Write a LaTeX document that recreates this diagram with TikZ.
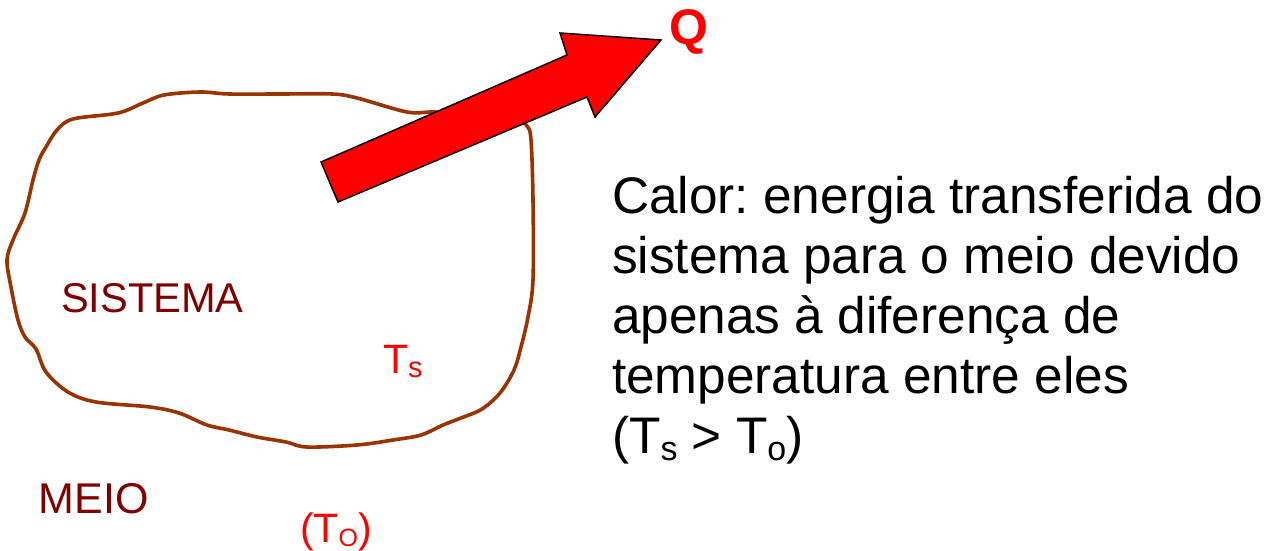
\documentclass[tikz,border=0pt]{standalone}
\usepackage{fontspec}
\setmainfont{Liberation Sans}
\definecolor{blobbrown}{RGB}{153,51,0}
\definecolor{darkred}{RGB}{128,0,0}
\definecolor{pure red}{RGB}{255,0,0}
\newcommand{\lowsub}[3]{\raisebox{-#2pt}{\fontsize{#1}{#1}\selectfont #3}}
\frenchspacing
\begin{document}
\begin{tikzpicture}[x=0.5pt,y=-0.5pt,
  txt/.style={inner sep=0pt, outer sep=0pt, anchor=base west, font=\fontsize{25.7}{30}\selectfont, text=black},
  lbl/.style={inner sep=0pt, outer sep=0pt, anchor=base west, font=\fontsize{20.8}{24}\selectfont, text=darkred},
  redlbl/.style={inner sep=0pt, outer sep=0pt, anchor=base west, font=\fontsize{20.5}{24}\selectfont, text=pure red},
  qlbl/.style={inner sep=0pt, outer sep=0pt, anchor=base west, font=\fontsize{25}{28}\selectfont\bfseries, text=pure red},
  blob/.style={draw=blobbrown, line width=1.8pt, line join=round},
  heatarrow/.style={fill=pure red, draw=black, line width=0.75pt, line join=miter}
]
\useasboundingbox (0,0) rectangle (1284,551);
\fill[white] (0,0) rectangle (1284,551);

% system boundary
\draw[blob] plot[smooth cycle, tension=0.55] coordinates {
 (73,119) (118,113) (143,103) (164,95) (200,92) (229,94) (280,94) (332,94) (357,98)
 (407,112) (434,112) (480,114) (515,118) (527,126) (531,140) (533,200) (533,280)
 (528,317) (521,347) (514,370) (500,393) (482,409) (461,418) (443,425) (421,435)
 (393,440) (357,445) (307,447) (286,442) (257,437) (229,430) (207,425) (179,413)
 (150,407) (96,402) (68,392) (46,372) (36,349) (25,337) (18,320) (11,287) (7,260)
 (13,240) (25,213) (33,180) (39,160) (46,147) (57,130)};

% heat arrow
\coordinate (tailA) at (338,202);
\coordinate (tailB) at (321,162);
\coordinate (notchT) at (567,55);
\coordinate (barbT) at (560,33);
\coordinate (tip) at (661,40);
\coordinate (barbB) at (595,117);
\coordinate (notchB) at (587,97);
\draw[heatarrow] (tailA) -- (tailB) -- (notchT) -- (barbT) -- (tip) -- (barbB) -- (notchB) -- cycle;

% labels
\node[qlbl] (q) at (669,45) {Q};
\node[lbl] (sistema) at (61,312) {SISTEMA};
\node[lbl, font=\fontsize{21.5}{24}\selectfont] (meio) at (39,513) {MEIO};
\node[redlbl] (ts) at (383,373) {T\lowsub{14.5}{2}{s}};
\node[redlbl] (to) at (300,542) {(T\lowsub{12.5}{2}{O})};

% description
\node[txt] (l1) at (612,213) {Calor: energia transferida do};
\node[txt] (l2) at (612,273) {sistema para o meio devido};
\node[txt] (l3) at (612,333) {apenas à diferença de};
\node[txt] (l4) at (612,393) {temperatura entre eles};
\node[txt] (l5) at (612,453) {(T\lowsub{17}{3.5}{s} > T\lowsub{17}{3.5}{o})};
\end{tikzpicture}
\end{document}
